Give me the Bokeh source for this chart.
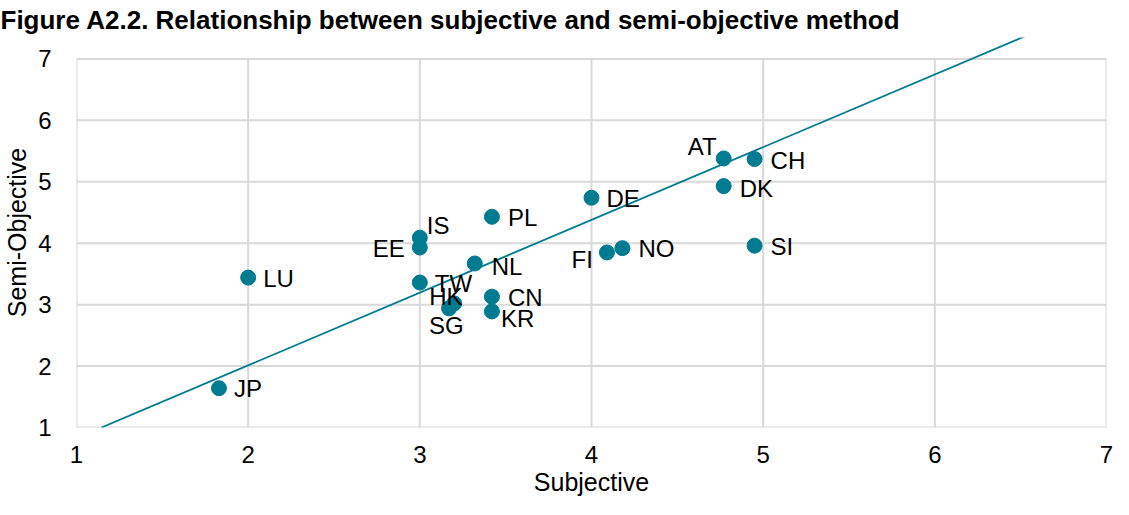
from bokeh.plotting import figure
from bokeh.models import Range1d, FixedTicker, ColumnDataSource
from bokeh.embed import file_html
from bokeh.resources import INLINE
from bokeh.core.properties import value

# ---- data ----
countries = ["JP", "LU", "IS", "EE", "TW", "HK", "SG", "NL", "PL",
             "CN", "KR", "DE", "FI", "NO", "AT", "CH", "DK", "SI"]
subjective = [1.83, 2.00, 3.00, 3.00, 3.00, 3.20, 3.17, 3.32, 3.42,
              3.42, 3.42, 4.00, 4.09, 4.18, 4.77, 4.95, 4.77, 4.95]
semi_objective = [1.64, 3.44, 4.09, 3.93, 3.36, 3.02, 2.94, 3.67, 4.43,
                  3.13, 2.89, 4.74, 3.85, 3.92, 5.38, 5.37, 4.93, 3.96]

trend_slope = 1.184
trend_intercept = -0.356
trend_x = [1.145, 6.945]

x_ticks = [1, 2, 3, 4, 5, 6, 7]
y_ticks = [1, 2, 3, 4, 5, 6, 7]

title_text = "Figure A2.2. Relationship between subjective and semi-objective method"
x_title = "Subjective"
y_title = "Semi-Objective"

# ---- label placement (screen px offsets, alignment) ----
label_place = {
    "JP": (15, 0, "left"), "LU": (15, 1, "left"), "IS": (7, -12, "left"),
    "EE": (-15, 1, "right"), "TW": (15, 1, "left"), "HK": (-25, -7, "left"),
    "SG": (-20, 17, "left"), "NL": (17, 3, "left"), "PL": (16, 1, "left"),
    "CN": (16, 1, "left"), "KR": (9, 7, "left"), "DE": (15, 1, "left"),
    "FI": (-14, 7, "right"), "NO": (16, 0, "left"), "AT": (-7, -12, "right"),
    "CH": (16, 1, "left"), "DK": (16, 2, "left"), "SI": (16, 1, "left"),
}

TEAL = "#007b8f"
GRID = "#d9d9d9"
FONT = "Liberation Sans"

p = figure(width=1113, height=499,
           x_range=Range1d(1, 7), y_range=Range1d(1, 7.349),
           output_backend="svg", toolbar_location=None,
           min_border_left=76, min_border_right=7,
           min_border_top=36, min_border_bottom=72)
p.outline_line_color = None
p.xgrid.visible = False
p.ygrid.visible = False
p.background_fill_color = "white"
p.border_fill_color = "white"

p.title.text = title_text
p.title.text_font = FONT
p.title.text_font_size = "26px"
p.title.text_font_style = "bold"
p.title.text_color = "#000000"
p.title.align = "left"
p.title.offset = -76
p.title.standoff = 5

for ax, ticks in ((p.xaxis, x_ticks), (p.yaxis, y_ticks)):
    ax.ticker = FixedTicker(ticks=ticks)
    ax.axis_line_color = None
    ax.major_tick_line_color = None
    ax.minor_tick_line_color = None
    ax.major_tick_out = 0
    ax.major_tick_in = 0
    ax.minor_tick_out = 0
    ax.minor_tick_in = 0
    ax.major_label_text_font = FONT
    ax.major_label_text_font_size = "24px"
    ax.major_label_text_color = "#000000"
    ax.axis_label_text_font = FONT
    ax.axis_label_text_font_size = "25px"
    ax.axis_label_text_font_style = "normal"
    ax.axis_label_text_color = "#000000"

p.xaxis.axis_label = x_title
p.yaxis.axis_label = y_title
p.xaxis.major_label_standoff = 18
p.xaxis.axis_label_standoff = 2
p.yaxis.major_label_standoff = 25
p.yaxis.axis_label_standoff = 4

# grid box drawn from tick arrays
p.segment(x0=x_ticks, y0=[y_ticks[0]] * len(x_ticks), x1=x_ticks, y1=[y_ticks[-1]] * len(x_ticks),
          line_color=GRID, line_width=2)
p.segment(x0=[x_ticks[0]] * len(y_ticks), y0=y_ticks, x1=[x_ticks[-1]] * len(y_ticks), y1=y_ticks,
          line_color=GRID, line_width=2)

# trend line
trend_y = [trend_slope * x + trend_intercept for x in trend_x]
p.line(trend_x, trend_y, line_color=TEAL, line_width=1.8)

# points
p.scatter(subjective, semi_objective, size=15, fill_color=TEAL, line_color=TEAL)

# labels
for align in ("left", "right"):
    idx = [i for i, c in enumerate(countries) if label_place[c][2] == align]
    src = ColumnDataSource(dict(
        x=[subjective[i] for i in idx],
        y=[semi_objective[i] for i in idx],
        t=[countries[i] for i in idx],
        dx=[label_place[countries[i]][0] for i in idx],
        dy=[label_place[countries[i]][1] for i in idx],
    ))
    p.text(x="x", y="y", text="t", x_offset="dx", y_offset="dy", source=src,
           text_align=align, text_baseline="middle",
           text_font=value(FONT), text_font_size="24px", text_color="#000000")

open("out.html", "w").write(file_html(p, INLINE))
